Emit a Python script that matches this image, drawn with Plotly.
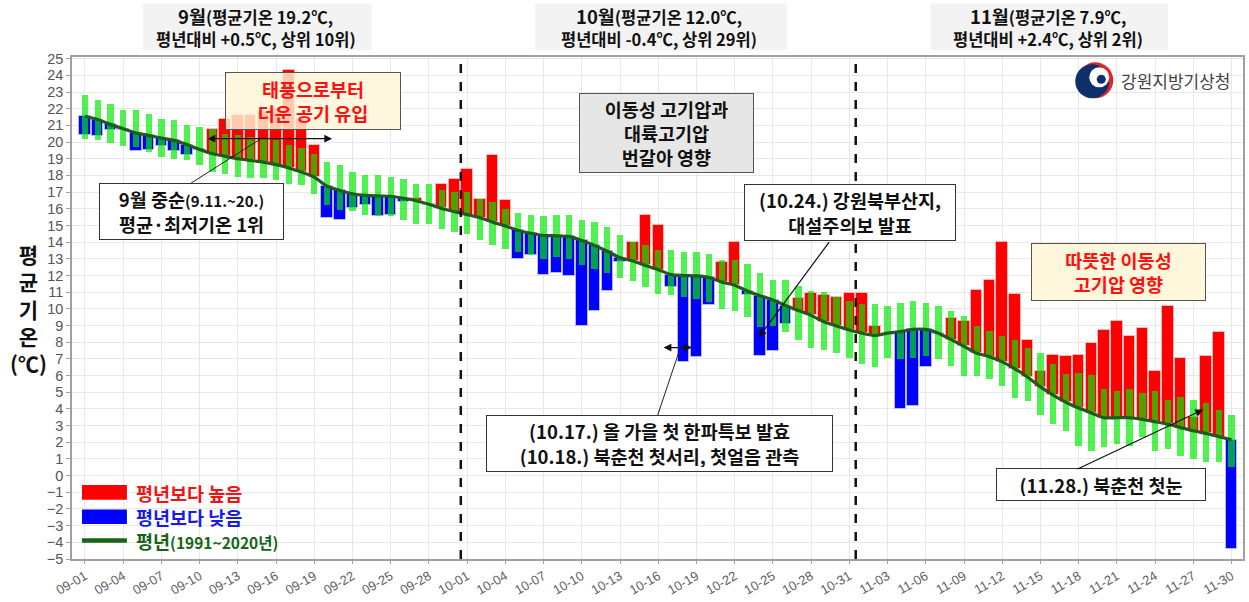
import plotly.graph_objects as go
import pandas as pd

# ---------------- data ----------------
start = pd.Timestamp("2024-09-01")
dates = pd.date_range(start, "2024-11-30", freq="D")

# 평년 (1991~2020) daily mean temperature
normal = [21.55, 21.35, 21.06, 20.8, 20.54, 20.4, 20.24, 20.1, 19.85, 19.56,
          19.3, 19.15, 19.0, 18.9, 18.8, 18.65, 18.45, 18.2, 17.9, 17.35,
          17.1, 16.9, 16.8, 16.77, 16.75, 16.63, 16.48, 16.27, 16.02, 15.83,
          15.65, 15.46, 15.2, 14.97, 14.7, 14.53, 14.4, 14.38, 14.34, 14.1,
          13.8, 13.45, 13.06, 12.87, 12.6, 12.35, 12.05, 12.0, 11.98, 11.88,
          11.6, 11.42, 11.07, 10.78, 10.53, 10.2, 9.9, 9.61, 9.22, 8.97,
          8.73, 8.54, 8.4, 8.54, 8.64, 8.77, 8.77, 8.54, 8.15, 7.75,
          7.33, 7.13, 6.82, 6.4, 5.9, 5.32, 4.83, 4.4, 4.05, 3.76,
          3.47, 3.47, 3.47, 3.37, 3.23, 3.08, 2.88, 2.69, 2.53, 2.34, 2.15]

# 평년 비슷 범위 (upper / lower)
normal_hi = [22.8, 22.5, 22.3, 21.9, 21.9, 21.7, 21.4, 21.3, 21.0, 20.9,
             20.8, 20.5, 20.4, 20.3, 20.2, 20.1, 19.85, 19.65, 19.3, 18.8,
             18.6, 18.2, 18.0, 18.0, 17.9, 17.8, 17.5, 17.5, 17.1, 17.0,
             17.0, 16.6, 16.4, 16.0, 15.75, 15.65, 15.55, 15.65, 15.65, 15.35,
             15.2, 14.9, 14.4, 14.0, 13.8, 13.5, 13.5, 13.4, 13.4, 13.3,
             12.9, 12.9, 12.7, 12.15, 11.75, 11.75, 11.35, 11.05, 11.0, 10.7,
             10.5, 10.3, 10.3, 10.2, 10.35, 10.5, 10.35, 10.2, 9.85, 9.6,
             8.95, 8.65, 8.35, 8.15, 7.65, 7.35, 6.7, 6.1, 6.15, 6.05,
             5.2, 5.05, 5.2, 4.95, 5.05, 4.55, 4.7, 4.55, 4.35, 3.95, 3.65]
normal_lo = [20.2, 20.1, 19.95, 19.75, 19.7, 19.4, 19.1, 19.0, 18.9, 18.6,
             18.2, 18.1, 17.9, 17.85, 17.85, 17.75, 17.5, 17.4, 16.9, 16.25,
             15.95, 15.85, 15.65, 15.55, 15.55, 15.3, 15.1, 15.1, 14.8, 14.6,
             14.5, 14.1, 13.8, 13.6, 13.4, 13.2, 13.0, 13.1, 13.0, 12.6,
             12.4, 12.15, 11.85, 11.65, 11.3, 10.9, 10.8, 10.7, 10.6, 10.4,
             10.0, 9.9, 9.5, 8.9, 9.0, 8.6, 8.15, 7.65, 7.55, 7.35,
             7.05, 6.7, 6.5, 7.05, 7.0, 7.05, 7.15, 7.0, 6.55, 6.0,
             5.95, 5.8, 5.4, 4.65, 4.45, 3.65, 3.1, 2.7, 1.8, 1.5,
             1.7, 1.9, 1.8, 2.3, 1.5, 1.6, 1.15, 1.0, 0.8, 0.8, 0.5]

# 2024 observed daily mean temperature
temp = [20.45, 20.35, 20.75, 20.7, 19.45, 19.5, 19.75, 19.45, 19.2, 19.5,
        20.8, 21.4, 21.6, 21.6, 21.8, 22.0, 24.3, 21.4, 19.8, 15.45,
        15.3, 16.05, 16.25, 15.55, 15.6, 16.4, 16.65, 16.25, 17.5, 17.8,
        18.4, 16.6, 19.2, 16.5, 13.0, 13.2, 12.05, 12.15, 11.95, 8.95,
        9.85, 11.05, 12.8, 14.0, 15.6, 15.0, 11.3, 6.8, 7.1, 10.25,
        12.8, 14.0, 10.8, 7.2, 7.5, 9.1, 10.65, 10.95, 10.85, 10.7,
        10.95, 10.95, 8.95, 8.45, 4.0, 4.2, 6.5, 8.5, 9.45, 9.3,
        11.15, 11.7, 14.0, 10.9, 8.15, 6.3, 7.25, 7.15, 7.25, 7.95,
        8.75, 9.25, 8.4, 8.85, 6.25, 10.15, 7.05, 3.5, 7.15, 8.6, -4.4]

month_titles = [
    ("9월", "(평균기온 19.2℃,", "평년대비 +0.5℃, 상위 10위)"),
    ("10월", "(평균기온 12.0℃,", "평년대비 -0.4℃, 상위 29위)"),
    ("11월", "(평균기온 7.9℃,", "평년대비 +2.4℃, 상위 2위)"),
]

# ---------------- helpers ----------------
DAY_MS = 86400000
CJK = "Noto Sans CJK KR"


def day(d):
    return (start + pd.Timedelta(days=d)).strftime("%Y-%m-%d %H:%M:%S")


diff = [t - n for t, n in zip(temp, normal)]
above = [d if d >= 0 else None for d in diff]
below = [d if d < 0 else None for d in diff]
rng = [h - l for h, l in zip(normal_hi, normal_lo)]

fig = go.Figure()
fig.add_trace(go.Bar(x=dates, y=above, base=normal, width=0.9 * DAY_MS,
                     marker=dict(color="#ff0000", line=dict(color="rgba(255,190,190,0.9)", width=1)),
                     showlegend=False, hoverinfo="skip"))
fig.add_trace(go.Bar(x=dates, y=below, base=normal, width=0.9 * DAY_MS,
                     marker=dict(color="#0000ff", line=dict(color="rgba(190,190,255,0.9)", width=1)),
                     showlegend=False, hoverinfo="skip"))
fig.add_trace(go.Bar(x=dates, y=rng, base=normal_lo, width=0.5 * DAY_MS,
                     marker=dict(color="rgba(0,235,0,0.68)", line=dict(width=0)),
                     showlegend=False, hoverinfo="skip"))
fig.add_trace(go.Scatter(x=dates, y=normal, mode="lines",
                         line=dict(color="#1f5a1f", width=3.2, shape="spline", smoothing=0.6),
                         showlegend=False, hoverinfo="skip"))

# plot pixel geometry (for paper-coordinate placement of boxes)
L, R, T, B = 72, 1245, 57, 573


def px(x):
    return (x - L) / (R - L)


def py(y):
    return (B - y) / (B - T)


ann = []
shapes = []

# month titles above the plot (two separate lines on a light grey panel)
for (m, a, b), cx, (bx0, bx1) in zip(month_titles, [256, 660, 1050],
                                     [(143, 372), (536, 788), (932, 1170)]):
    shapes.append(dict(type="rect", xref="paper", yref="paper", x0=px(bx0), x1=px(bx1),
                       y0=py(50), y1=py(2), fillcolor="#f3f3f3", line=dict(width=0), layer="below"))
    ann.append(dict(xref="paper", yref="paper", x=px(cx), y=py(15), xanchor="center", yanchor="middle",
                    text=f"<b><span style='font-size:18.5px'>{m}</span>{a}</b>",
                    showarrow=False, font=dict(family=CJK, size=16.5, color="#111")))
    ann.append(dict(xref="paper", yref="paper", x=px(cx), y=py(38), xanchor="center", yanchor="middle",
                    text=f"<b>{b}</b>",
                    showarrow=False, font=dict(family=CJK, size=16.5, color="#111")))


def box(text, cx, cy, w, h, color="#111", bg="white", border="#333", size=18.5):
    ann.append(dict(xref="paper", yref="paper", x=px(cx), y=py(cy), xanchor="center", yanchor="middle",
                    text=text, showarrow=False, font=dict(family=CJK, size=size, color=color),
                    bgcolor=bg, bordercolor=border, borderwidth=1, borderpad=4,
                    width=w - 10, height=h - 10, align="center", valign="middle"))


box("<b>태풍으로부터<br>더운 공기 유입</b>", 313, 102, 176, 58, color="#ff1010",
    bg="rgba(255,247,215,0.82)", border="#555")
box("<b>9월 중순<span style='font-size:15px'>(9.11.~20.)</span><br>평균·최저기온 1위</b>",
    191.5, 215.5, 185, 57)
box("<b>이동성 고기압과<br>대륙고기압<br>번갈아 영향</b>", 667.5, 135, 175, 80,
    bg="#e6e6e6", border="#555")
box("<b>(10.24.) 강원북부산지,<br>대설주의보 발표</b>", 851, 216.5, 212, 57)
box("<b>(10.17.) 올 가을 첫 한파특보 발효<br>(10.18.) 북춘천 첫서리, 첫얼음 관측</b>",
    660.5, 454.5, 347, 57)
box("<b>따뜻한 이동성<br>고기압 영향</b>", 1120.5, 278, 175, 58, color="#ff1010",
    bg="#fff7dc", border="#555")
box("<b>(11.28.) 북춘천 첫눈</b>", 1103, 496.5, 210, 33)


# arrows (data coordinates)
def arrow(x, y, ax, ay, both=False):
    ann.append(dict(xref="x", yref="y", axref="x", ayref="y", x=day(x), y=y, ax=day(ax), ay=ay,
                    text="", showarrow=True, arrowhead=2, arrowsize=1.3, arrowwidth=1.2,
                    arrowcolor="#111", arrowside="end+start" if both else "end"))


arrow(19.4, 20.2, 9.5, 20.2, both=True)
arrow(47.65, 7.68, 45.3, 7.68, both=True)
arrow(52.9, 8.3, 58.5, 14.09)
arrow(87.77, 3.96, 77.8, 0.35)

shapes.append(dict(type="line", xref="x", yref="y", x0=day(8.23), y0=17.49, x1=day(13.87), y1=20.23,
                   line=dict(color="#222", width=1)))
shapes.append(dict(type="line", xref="x", yref="y", x0=day(44.9), y0=3.5, x1=day(46.6), y1=7.37,
                   line=dict(color="#222", width=1)))

# month separators
for d in (29.5, 60.5):
    shapes.append(dict(type="line", xref="x", yref="paper", x0=day(d), x1=day(d), y0=0, y1=1,
                       line=dict(color="#111", width=2.5, dash="dash")))

# custom legend
shapes.append(dict(type="rect", xref="paper", yref="paper", x0=px(82), x1=px(127), y0=py(512), y1=py(497),
                   fillcolor="#ff0000", line=dict(width=0)))
shapes.append(dict(type="rect", xref="paper", yref="paper", x0=px(82), x1=px(127), y0=py(537), y1=py(522),
                   fillcolor="#0000ff", line=dict(width=0)))
shapes.append(dict(type="line", xref="paper", yref="paper", x0=px(82), x1=px(127), y0=py(554), y1=py(554),
                   line=dict(color="#1a641a", width=4.5)))
for txt, yy, col in [("<b>평년보다 높음</b>", 505, "#f01414"),
                     ("<b>평년보다 낮음</b>", 529.5, "#1a1ae8"),
                     ("<b>평년<span style='font-size:15.5px'>(1991~2020년)</span></b>", 555, "#176417")]:
    ann.append(dict(xref="paper", yref="paper", x=px(134), y=py(yy), xanchor="left", yanchor="middle",
                    text=txt, showarrow=False, font=dict(family=CJK, size=18.5, color=col)))

# y-axis title (stacked)
ann.append(dict(xref="paper", yref="paper", x=px(28), y=py(316), xanchor="center", yanchor="middle",
                text="<b>평<br>균<br>기<br>온<br>(℃)</b>", showarrow=False,
                font=dict(family=CJK, size=21, color="#111")))

# logo
lx, ly = px(1097), py(81)
for (cx, cy, r, col) in [(0, 0, 18, "#e3242b"), (-3, -1, 17, "#0f2f6b"), (4, 3, 10, "white"),
                          (6, 1, 4.5, "#0f2f6b")]:
    shapes.append(dict(type="circle", xref="paper", yref="paper", xsizemode="pixel", ysizemode="pixel",
                       xanchor=lx, yanchor=ly, x0=cx - r, x1=cx + r, y0=cy - r, y1=cy + r,
                       fillcolor=col, line=dict(width=0)))
ann.append(dict(xref="paper", yref="paper", x=px(1121), y=py(81), xanchor="left", yanchor="middle",
                text="강원지방기상청", showarrow=False, font=dict(family=CJK, size=17, color="#444")))

fig.update_layout(
    width=1249, height=602,
    margin=dict(l=L, r=1249 - R, t=T, b=602 - B),
    paper_bgcolor="white", plot_bgcolor="white",
    barmode="overlay", bargap=0, showlegend=False,
    annotations=ann, shapes=shapes,
    xaxis=dict(type="date", range=[day(-1.02), day(90.9)], tick0="2024-09-01", dtick=3 * DAY_MS,
               tickformat="%m-%d", tickangle=-30,
               tickfont=dict(family="Liberation Sans, Arial", size=13, color="#606060"),
               showgrid=True, gridcolor="#e8e8e8", gridwidth=1,
               showline=True, linecolor="#a0a0a0", linewidth=1.5, mirror=True,
               ticks="outside", ticklen=3, tickcolor="#a0a0a0", zeroline=False),
    yaxis=dict(range=[-5, 25.1], dtick=1, tick0=0,
               tickfont=dict(family="Liberation Sans, Arial", size=14.5, color="#555"),
               showgrid=True, gridcolor="#e8e8e8", gridwidth=1,
               showline=True, linecolor="#a0a0a0", linewidth=1.5, mirror=True,
               ticks="outside", ticklen=4, tickcolor="#a0a0a0", zeroline=False),
)

fig.write_html("out.html", config={"displayModeBar": False},
               post_script="document.body.style.margin='0';document.body.style.overflow='hidden';")
